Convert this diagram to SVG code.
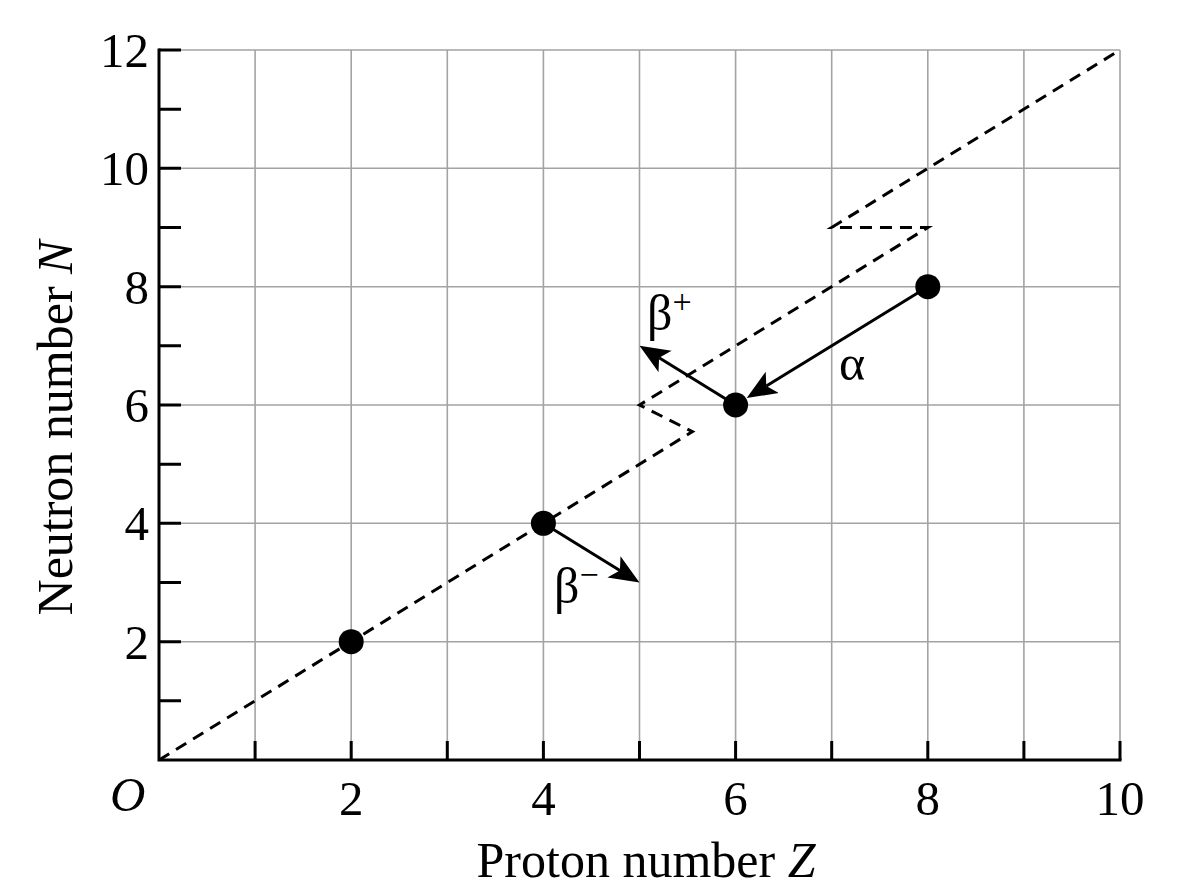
<svg xmlns="http://www.w3.org/2000/svg" width="1200" height="896" viewBox="0 0 1200 896">
<style>
.grid{stroke:#a3a3a3;stroke-width:1.6;fill:none}
.axis{stroke:#000;stroke-width:3;fill:none}
.tick{stroke:#000;stroke-width:3}
.dash{stroke:#000;stroke-width:3;fill:none;stroke-dasharray:12 8}
.arrow{stroke:#000;stroke-width:3;fill:none;marker-end:url(#ah)}
.lbl{font-family:"Liberation Serif","Times New Roman",serif;font-size:49px;fill:#000}
.title{font-family:"Liberation Serif","Times New Roman",serif;font-size:50px;fill:#000}
.greek{font-family:"Liberation Serif","Times New Roman",serif;font-size:50px;fill:#000}
.sup{font-size:34px}
</style>
<defs>
<marker id="ah" markerUnits="userSpaceOnUse" viewBox="-7 -13 30 26" markerWidth="30" markerHeight="26" refX="0" refY="0" orient="auto">
<path d="M-7,-12.5 L23,0 L-7,12.5 L0,0 Z" fill="#000"/>
</marker>
</defs>
<rect width="1200" height="896" fill="#fff"/>
<g id="grid" class="grid">
<path d="M255.1,50V760M351.2,50V760M447.3,50V760M543.4,50V760M639.5,50V760M735.6,50V760M831.7,50V760M927.8,50V760M1023.9,50V760M1120,50V760"/>
<path d="M159,641.7H1120M159,523.3H1120M159,405H1120M159,286.7H1120M159,168.3H1120M159,50H1120"/>
</g>
<g id="axes">
<path class="axis" d="M159,48.5V760H1121.5"/>
<path class="tick" d="M159,700.8H181M159,641.7H181M159,582.5H181M159,523.3H181M159,464.2H181M159,405H181M159,345.8H181M159,286.7H181M159,227.5H181M159,168.3H181M159,109.2H181M159,50H181"/>
<path class="tick" d="M255.1,760V741M351.2,760V741M447.3,760V741M543.4,760V741M639.5,760V741M735.6,760V741M831.7,760V741M927.8,760V741M1023.9,760V741M1120,760V741"/>
</g>
<g id="ylabels" class="lbl" text-anchor="end">
<text x="149" y="67">12</text>
<text x="149" y="185">10</text>
<text x="149" y="304">8</text>
<text x="149" y="422">6</text>
<text x="149" y="540">4</text>
<text x="149" y="659">2</text>
</g>
<g id="xlabels" class="lbl" text-anchor="middle">
<text x="351.2" y="815">2</text>
<text x="543.4" y="815">4</text>
<text x="735.6" y="815">6</text>
<text x="927.8" y="815">8</text>
<text x="1120" y="815">10</text>
</g>
<text id="origin" class="lbl" x="110" y="811" font-style="italic">O</text>
<text id="xtitle" class="title" x="646" y="877" text-anchor="middle">Proton number <tspan font-style="italic">Z</tspan></text>
<text id="ytitle" class="title" transform="translate(72,428) rotate(-90)" text-anchor="middle">Neutron number <tspan font-style="italic">N</tspan></text>
<g id="connectors">
<path id="stability-line" class="dash" d="M159,760 L692.4,431.6 L639.5,405 L927.8,227.5 L831.7,227.5 L1120,50"/>
<line id="alpha-arrow" class="arrow" x1="927.8" y1="286.7" x2="766.3" y2="386"/>
<line id="betaplus-arrow" class="arrow" x1="735.6" y1="405" x2="659.1" y2="357.8"/>
<line id="betaminus-arrow" class="arrow" x1="543.4" y1="523.3" x2="619.9" y2="570.5"/>
</g>
<g id="n2"><circle cx="351.2" cy="641.7" r="12.5" fill="#000"/></g>
<g id="n4"><circle cx="543.4" cy="523.3" r="12.5" fill="#000"/></g>
<g id="n6"><circle cx="735.6" cy="405" r="12.5" fill="#000"/></g>
<g id="n8"><circle cx="927.8" cy="286.7" r="12.5" fill="#000"/></g>
<g id="labels" class="greek">
<text x="647" y="330">β<tspan class="sup" dy="-17">+</tspan></text>
<text x="554" y="603">β<tspan class="sup" dy="-17">−</tspan></text>
<text x="839" y="380">α</text>
</g>
</svg>
